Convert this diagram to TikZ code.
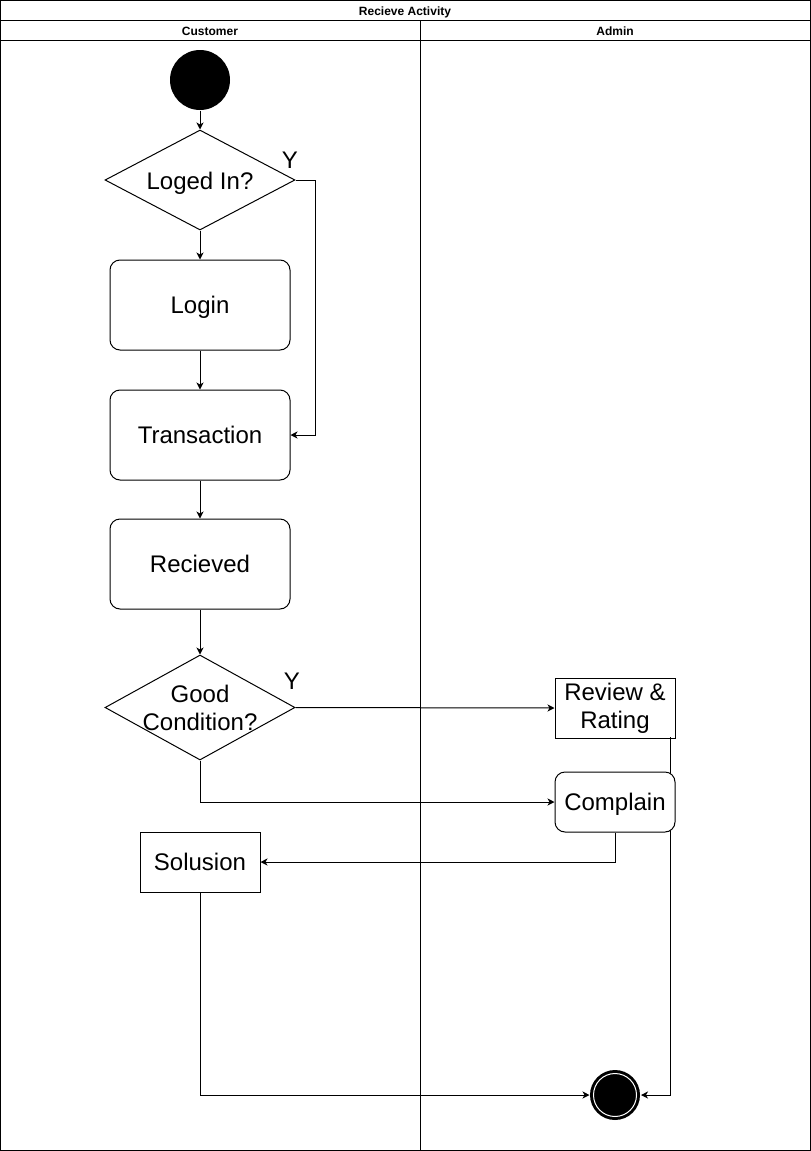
\documentclass[tikz,border=0pt]{standalone}
\usepackage{fontspec}
\setmainfont{Liberation Sans}
\usetikzlibrary{shapes.geometric,arrows.meta}
\begin{document}
\begin{tikzpicture}[x=1pt,y=-1pt,line width=1pt,
  one/.style={text height=17pt,text depth=0pt},
  act/.style={draw,rounded corners=10pt,minimum width=180pt,minimum height=90pt,font=\fontsize{24}{28}\selectfont,fill=white,one},
  box/.style={draw,minimum width=120pt,minimum height=60pt,font=\fontsize{24}{28}\selectfont,fill=white,align=center,inner sep=1pt},
  rbox/.style={box,rounded corners=10pt},
  dec/.style={draw,diamond,minimum width=190pt,minimum height=100pt,inner sep=0pt,fill=white},
  dtxt/.style={font=\fontsize{24}{28}\selectfont,align=center,inner sep=0pt},
  lbl/.style={font=\fontsize{24}{28}\selectfont},
  hdr/.style={font=\bfseries\fontsize{12}{14}\selectfont},
  arr/.style={-{Stealth[length=7pt,width=7pt,inset=2pt]}}
]
\useasboundingbox (0,0) rectangle (811,1151);
% frame and lanes
\draw (0.5,0.5) rectangle (810.5,1150.5);
\draw (0.5,20) -- (810.5,20);
\draw (0.5,40) -- (810.5,40);
\draw (420,20) -- (420,1150.5);
\node[hdr] (title) at (405,12) {Recieve Activity};
\node[hdr] (lc) at (210,31) {Customer};
\node[hdr] (la) at (615,31) {Admin};
% nodes
\node[circle,fill=black,minimum size=60pt,inner sep=0pt] (start) at (200,80) {};
\node[dec] (d1) at (200,180) {};
\node[dtxt,one] (d1t) at (200,181) {Loged In?};
\node[act] (login) at (200,305) {Login};
\node[act] (trans) at (200,435) {Transaction};
\node[act] (recv) at (200,564) {Recieved};
\node[dec,minimum height=105pt] (d2) at (200,707.5) {};
\node[dtxt] (d2t) at (200,708) {Good\\Condition?};
\node[box] (review) at (615,708) {Review \&\\Rating};
\coordinate (endc) at (615,1095);
% review -> end line (behind complain)
\coordinate (rv) at (670,737);
\coordinate (endr) at (641,1095);
\draw[arr] (rv) |- (endr);
\node[rbox,one] (compl) at (615,802) {Complain};
\node[box,one] (sol) at (200,862) {Solusion};
\node[circle,fill=black,minimum size=50pt,inner sep=0pt] (end) at (endc) {};
\draw[white,line width=1pt] (endc) circle (21.5);
% labels
\node[lbl] (y1) at (290,160) {Y};
\node[lbl] (y2) at (292,681) {Y};
% edges
\draw[arr] (start) -- (d1);
\draw[arr] (d1) -- (login);
\draw[arr] (login) -- (trans);
\draw[arr] (trans) -- (recv);
\draw[arr] (recv) -- (d2);
\draw[arr] (d1.east) -- ++(20,0) |- (trans.east);
\draw[arr] (d2.east) -- (review.west);
\draw[arr] (d2.south) |- (compl.west);
\draw[arr] (compl.south) |- (sol.east);
\draw[arr] (sol.south) |- (end.west);
\end{tikzpicture}
\end{document}
